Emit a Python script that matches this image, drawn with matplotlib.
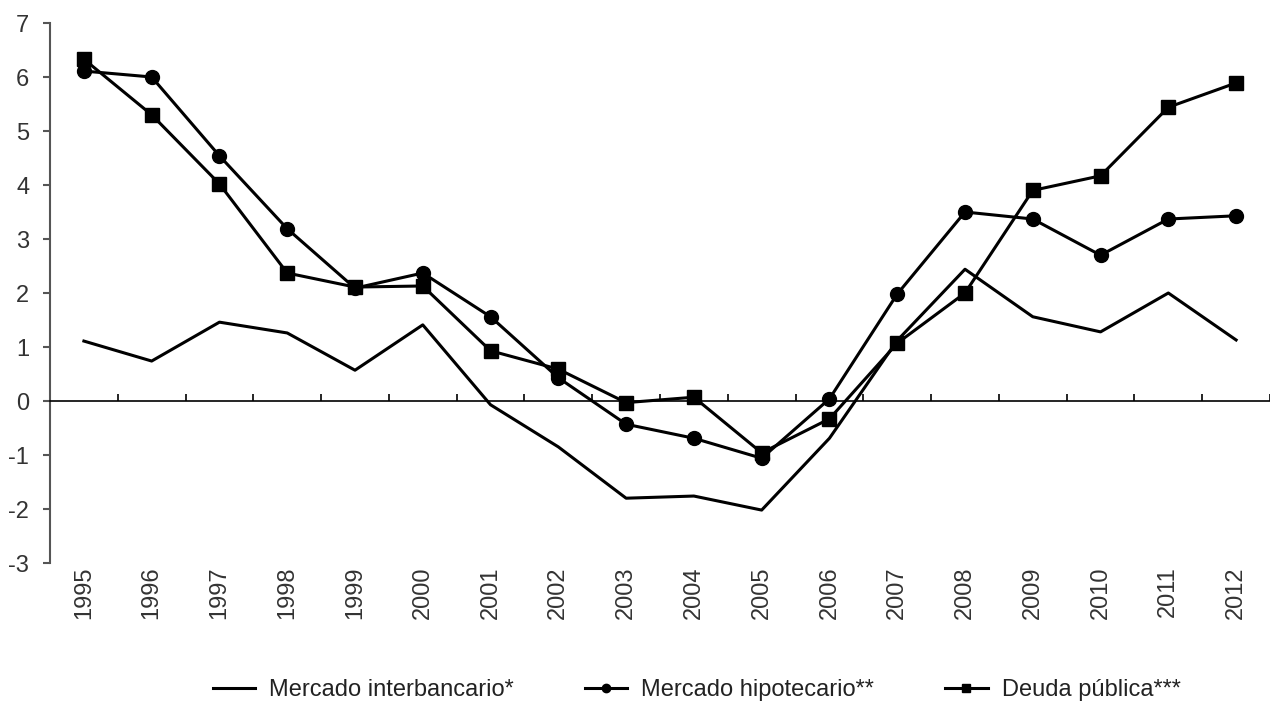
import matplotlib.pyplot as plt
from matplotlib.transforms import blended_transform_factory

plt.rcParams['font.family'] = ['Liberation Sans', 'DejaVu Sans']

years = ['1995', '1996', '1997', '1998', '1999', '2000', '2001', '2002', '2003',
         '2004', '2005', '2006', '2007', '2008', '2009', '2010', '2011', '2012']
interbancario = [1.11, 0.74, 1.46, 1.26, 0.57, 1.41, -0.07, -0.85, -1.80,
                 -1.76, -2.02, -0.69, 1.12, 2.44, 1.56, 1.28, 2.00, 1.13]
hipotecario = [6.11, 6.00, 4.54, 3.19, 2.09, 2.37, 1.56, 0.43, -0.43,
               -0.69, -1.06, 0.04, 1.98, 3.50, 3.37, 2.70, 3.37, 3.43]
deuda = [6.33, 5.30, 4.02, 2.37, 2.11, 2.13, 0.93, 0.59, -0.03,
         0.07, -0.96, -0.33, 1.07, 2.00, 3.90, 4.17, 5.44, 5.89]

fig = plt.figure(figsize=(12.7, 7.12), dpi=100)
ax = fig.add_axes([50 / 1270, 149 / 712, 1 - 50 / 1270, 540 / 712])

x = range(len(years))
ax.plot(x, interbancario, color='black', lw=2.2, label='Mercado interbancario*')
ax.plot(x, hipotecario, color='black', lw=2.2, marker='o', markersize=10,
        label='Mercado hipotecario**')
ax.plot(x, deuda, color='black', lw=2.2, marker='s', markersize=9.5,
        label='Deuda pública***')

ax.set_xlim(-0.5, len(years) - 0.5)
ax.set_ylim(-3, 7)
ax.set_yticks(range(-3, 8))
ax.set_yticklabels([str(v) for v in range(-3, 8)], fontsize=17)

for s in ['top', 'right']:
    ax.spines[s].set_visible(False)
ax.spines['left'].set_color('#555555')
ax.spines['left'].set_linewidth(1.5)
ax.spines['bottom'].set_position(('data', 0))
ax.spines['bottom'].set_color('black')
ax.spines['bottom'].set_linewidth(1.2)
ax.tick_params(axis='y', colors='#555555', length=5, width=1.5, labelcolor='#333333', pad=10)

ax.set_xticks([i - 0.5 for i in range(1, len(years) + 1)])
ax.set_xticklabels([])
ax.tick_params(axis='x', length=5, width=1.2, direction='in')

trans = blended_transform_factory(ax.transData, ax.transAxes)
for i, yr in enumerate(years):
    ax.text(i, -0.006, yr, transform=trans, rotation=90, ha='center', va='top',
            fontsize=17, color='#333333')

ax.legend(loc='center', bbox_to_anchor=(0.53, -0.235), ncol=3, frameon=False,
          fontsize=17, handlelength=1.8, columnspacing=3.0, handletextpad=0.6,
          labelcolor='#222222', markerscale=0.6)

fig.savefig('out.png', dpi=100)
